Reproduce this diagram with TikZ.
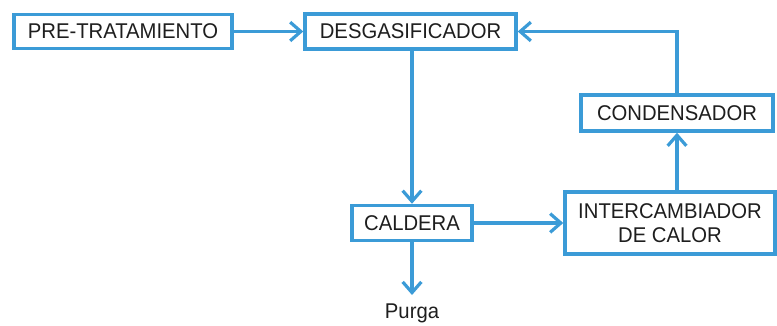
\documentclass[tikz,border=0pt]{standalone}
\usepackage{fontspec}
\setmainfont{Liberation Sans}[FakeStretch=0.95]
\usetikzlibrary{arrows.meta}

\definecolor{flowblue}{RGB}{59,155,215}
\definecolor{inkgray}{RGB}{30,30,30}

\begin{document}
\begin{tikzpicture}[x=0.75pt,y=0.75pt,yscale=-1,xscale=1,
  blok/.style={draw=flowblue, line width=2.6pt, fill=white, inner sep=0pt, align=center,
    text=inkgray, font=\fontsize{16}{18.5}\selectfont},
  flow/.style={draw=flowblue, line width=2.6pt, -{Straight Barb[length=8pt,width=14pt,line width=2.4pt]}}]
\useasboundingbox (0,0) rectangle (777,325);

% Boxes
\node [blok, minimum width=163.5pt, minimum height=25.5pt] (pre) at (123,31.5) {PRE-TRATAMIENTO};
\node [blok, minimum width=158.25pt, minimum height=26.25pt] (desg) at (410.5,31.5) {DESGASIFICADOR};
\node [blok, minimum width=144pt, minimum height=27pt] (cond) at (677,113) {CONDENSADOR};
\node [blok, minimum width=90pt, minimum height=26.25pt] (cald) at (412,223) {CALDERA};
\node [blok, minimum width=157.5pt, minimum height=46.5pt] (inter) at (670,223) {INTERCAMBIADOR\\DE CALOR};
% Text Node
\node [text=inkgray, font=\fontsize{16}{18.5}\selectfont] (purga) at (412,313) {Purga};
\coordinate (purgaend) at (412,295);

%Straight Lines
\draw [flow] (pre.east) -- (desg.west);
\draw [flow] (desg.south -| cald.north) -- (cald.north);
\draw [flow] (cald.east) -- (inter.west);
\draw [flow] (inter.north -| cond.south) -- (cond.south);
\draw [flow] (cond.north) |- (desg.east);
\draw [flow] (cald.south) -- (purgaend);

\end{tikzpicture}
\end{document}
